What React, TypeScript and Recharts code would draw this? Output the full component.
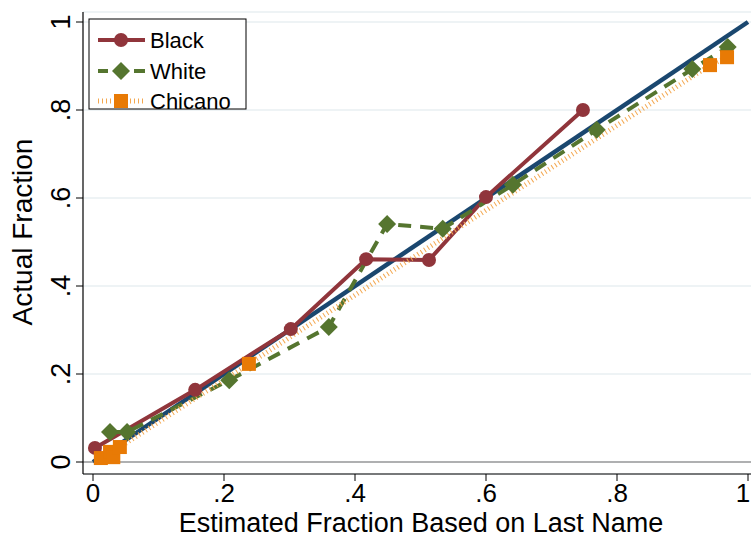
import React from "react";
import { LineChart, Line, XAxis, YAxis, CartesianGrid, ReferenceLine, Customized } from "recharts";

const xTicks = [0, 0.2, 0.4, 0.6, 0.8, 1];
const yTicks = [0, 0.2, 0.4, 0.6, 0.8, 1];

const blackX = [0.003, 0.156, 0.302, 0.417, 0.513, 0.6, 0.748];
const blackY = [0.032, 0.164, 0.302, 0.461, 0.459, 0.602, 0.8];

const whiteX = [0.026, 0.052, 0.208, 0.36, 0.449, 0.534, 0.641, 0.769, 0.915, 0.969];
const whiteY = [0.068, 0.068, 0.186, 0.307, 0.541, 0.53, 0.63, 0.755, 0.893, 0.943];

const chicanoX = [0.012, 0.026, 0.031, 0.041, 0.238, 0.942, 0.968];
const chicanoY = [0.009, 0.023, 0.011, 0.034, 0.223, 0.902, 0.92];

const diagX = [0, 1];
const diagY = [0, 1];

const seriesNames = ["Black", "White", "Chicano"];

const toRows = (xs: number[], ys: number[]) => xs.map((x, i) => ({ x, y: ys[i] }));
const blackData = toRows(blackX, blackY);
const whiteData = toRows(whiteX, whiteY);
const chicanoData = toRows(chicanoX, chicanoY);
const diagData = toRows(diagX, diagY);

const NAVY = "#1A476F";
const MAROON = "#90353B";
const GREEN = "#55752F";
const ORANGE = "#E87A05";
const ORANGE_LIGHT = "#F4A850";
const FONT = "'Liberation Sans', Arial, Helvetica, sans-serif";

const fmt = (v: number) => (v === 0 ? "0" : v === 1 ? "1" : String(v).replace(/^0/, ""));

const circleDot = (p: any) => (
  <circle key={"c" + p.index} cx={p.cx} cy={p.cy} r={7} fill={MAROON} stroke="none" />
);
const diamondDot = (p: any) => {
  const s = 9;
  return (
    <polygon
      key={"d" + p.index}
      points={`${p.cx},${p.cy - s} ${p.cx + s},${p.cy} ${p.cx},${p.cy + s} ${p.cx - s},${p.cy}`}
      fill={GREEN}
    />
  );
};
const squareDot = (p: any) => (
  <rect key={"s" + p.index} x={p.cx - 7} y={p.cy - 7} width={14} height={14} fill={ORANGE} />
);

const XTick = (props: any) => {
  const { x, y, payload } = props;
  const cx = Math.min(x, 743);
  return (
    <text x={cx} y={y + 19} textAnchor="middle" fontSize={26} fontFamily={FONT} fill="#000">
      {fmt(payload.value)}
    </text>
  );
};

const YTick = (props: any) => {
  const { x, y, payload } = props;
  const bx = x - 4;
  return (
    <text
      x={bx}
      y={y}
      textAnchor="middle"
      fontSize={27}
      fontFamily={FONT}
      fill="#000"
      transform={`rotate(-90 ${bx} ${y})`}
    >
      {fmt(payload.value)}
    </text>
  );
};

const Extras = () => {
  const lx = 89;
  const ly = 19;
  const rows = [40, 71, 101];
  return (
    <g>
      <text x={421} y={532} textAnchor="middle" fontSize={27} fontFamily={FONT} fill="#000">
        Estimated Fraction Based on Last Name
      </text>
      <text
        x={32}
        y={232}
        textAnchor="middle"
        fontSize={28}
        fontFamily={FONT}
        fill="#000"
        transform="rotate(-90 32 232)"
      >
        Actual Fraction
      </text>
      <rect x={lx} y={ly} width={157} height={90} fill="#fff" stroke="#000" strokeWidth={1} />
      <line x1={98} x2={145} y1={rows[0]} y2={rows[0]} stroke={MAROON} strokeWidth={4} />
      <circle cx={121} cy={rows[0]} r={7} fill={MAROON} />
      <line x1={98} x2={108} y1={rows[1]} y2={rows[1]} stroke={GREEN} strokeWidth={4} />
      <line x1={134} x2={145} y1={rows[1]} y2={rows[1]} stroke={GREEN} strokeWidth={4} />
      <polygon points={`121,${rows[1] - 9} 130,${rows[1]} 121,${rows[1] + 9} 112,${rows[1]}`} fill={GREEN} />
      <line x1={98} x2={145} y1={rows[2]} y2={rows[2]} stroke={ORANGE_LIGHT} strokeWidth={5} strokeDasharray="1 3" />
      <rect x={114} y={rows[2] - 7} width={14} height={14} fill={ORANGE} />
      {seriesNames.map((n, i) => (
        <text key={n} x={150} y={rows[i] + 8} fontSize={22} fontFamily={FONT} fill="#000">
          {n}
        </text>
      ))}
    </g>
  );
};

export default function App() {
  return (
    <div style={{ position: "absolute", left: 0, top: 0, width: 751, height: 538, background: "#fff" }}>
      <LineChart width={751} height={538} margin={{ top: 12, right: 0, bottom: 0, left: 0 }}>
        <CartesianGrid horizontal vertical={false} stroke="#E8EFF2" strokeWidth={1.5} />
        <XAxis
          type="number"
          dataKey="x"
          domain={[-10 / 655, 1 + 3 / 655]}
          allowDataOverflow
          ticks={xTicks}
          tick={<XTick />}
          tickSize={7}
          tickLine={{ stroke: "#000" }}
          axisLine={{ stroke: "#000", strokeWidth: 1.2 }}
          height={64}
          interval={0}
        />
        <YAxis
          type="number"
          dataKey="y"
          domain={[-12 / 440, 1 + 10 / 440]}
          allowDataOverflow
          ticks={yTicks}
          tick={<YTick />}
          tickSize={7}
          tickLine={{ stroke: "#000" }}
          axisLine={{ stroke: "#000", strokeWidth: 1.2 }}
          width={83}
          interval={0}
        />
        <ReferenceLine y={0} stroke="#9A9A9A" strokeWidth={1.5} />
        <Line
          data={diagData}
          dataKey="y"
          type="linear"
          stroke={NAVY}
          strokeWidth={4.5}
          dot={false}
          isAnimationActive={false}
        />
        <Line
          data={blackData}
          dataKey="y"
          type="linear"
          stroke={MAROON}
          strokeWidth={4}
          dot={circleDot}
          isAnimationActive={false}
        />
        <Line
          data={whiteData}
          dataKey="y"
          type="linear"
          stroke={GREEN}
          strokeWidth={4}
          strokeDasharray="13 9"
          dot={diamondDot}
          isAnimationActive={false}
        />
        <Line
          data={chicanoData}
          dataKey="y"
          type="linear"
          stroke={ORANGE_LIGHT}
          strokeWidth={5}
          strokeDasharray="1 3"
          dot={squareDot}
          isAnimationActive={false}
        />
        <Customized component={Extras} />
      </LineChart>
    </div>
  );
}
